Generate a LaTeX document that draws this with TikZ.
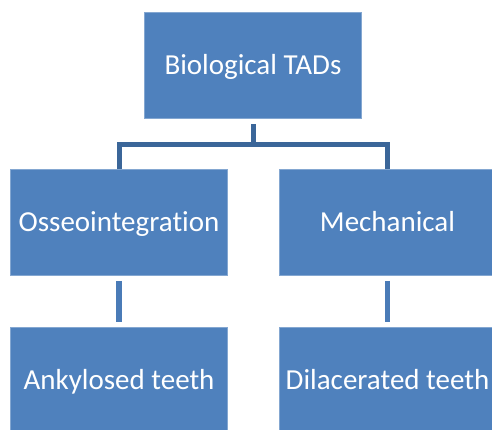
\documentclass[tikz,border=0pt]{standalone}
\usepackage{fontspec}
\setmainfont[Ligatures=NoCommon]{Carlito}
\definecolor{boxblue}{HTML}{4F81BD}
\definecolor{topline}{HTML}{3B6699}
\definecolor{lowline}{HTML}{4A7BB7}
\begin{document}
\begin{tikzpicture}[x=1pt,y=-1pt,
  box/.style={fill=boxblue, draw=boxblue!70!white, line width=0.6pt, minimum width=217pt, minimum height=106pt,
    text=white, font=\fontsize{29}{32}\selectfont, inner sep=0pt, text height=18.7pt, text depth=0pt},
  conn/.style={draw=topline, line width=5pt},
  vconn/.style={draw=lowline, line width=5.5pt}]
\useasboundingbox (0,0) rectangle (492,429);
\clip (0,0) rectangle (492,429);
\node[box] (top) at (253,65) {Biological TADs};
\node[box] (left) at (119,222.5) {Osseointegration};
\node[box] (right) at (387.5,222.5) {Mechanical};
\node[box] (bl) at (119,380) {Ankylosed teeth};
\node[box] (br) at (387.5,380) {Dilacerated teeth};
\coordinate (hbar) at (253,144);
\draw[conn] ([yshift=-6pt]top.south) -- (hbar);
\draw[conn] (left.north) |- (hbar) -| (right.north);
\draw[vconn] ([yshift=-5pt]left.south) -- ([yshift=5pt]bl.north);
\draw[vconn] ([yshift=-5pt]right.south) -- ([yshift=5pt]br.north);
\end{tikzpicture}
\end{document}
